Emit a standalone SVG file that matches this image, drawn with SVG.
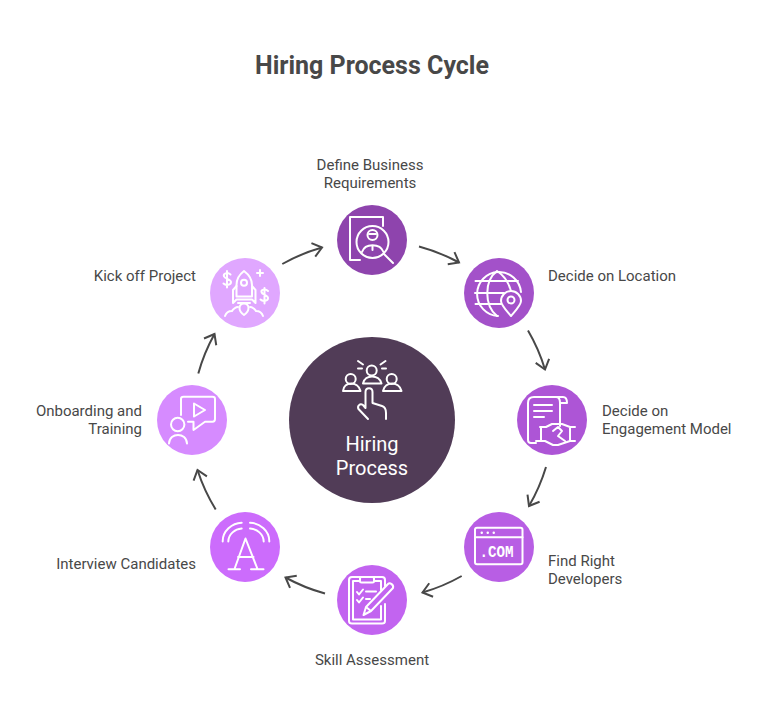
<svg xmlns="http://www.w3.org/2000/svg" width="768" height="720" viewBox="0 0 768 720">
<defs>
<marker id="arrow" markerUnits="userSpaceOnUse" markerWidth="24" markerHeight="24" refX="12" refY="12" orient="auto" overflow="visible"><path d="M3,5 L12,12 L3,19" fill="none" stroke="#484848" stroke-width="2"/></marker>
</defs>
<style>
text{font-family:Roboto,"Liberation Sans",sans-serif}
.t{font-size:15px;fill:#484848}
.m{text-anchor:middle}
.e{text-anchor:end}
.i{fill:none;stroke:#fff;stroke-width:2;stroke-linecap:round;stroke-linejoin:round}
.c{fill:none;stroke:#484848;stroke-width:2;marker-end:url(#arrow)}
</style>
<rect width="768" height="720" fill="#fff"/>
<text x="372" y="74" class="m" font-size="25" font-weight="700" fill="#484848">Hiring Process Cycle</text>
<g id="connectors">
<path class="c" d="M419,246.5 A180,180 0 0 1 459,262.5"/>
<path class="c" d="M528,330.5 A180,180 0 0 1 545,369.5"/>
<path class="c" d="M546,467 A180,180 0 0 1 529,506"/>
<path class="c" d="M461.7,576 A180,180 0 0 1 422.5,592.5"/>
<path class="c" d="M325,593.5 A180,180 0 0 1 285.5,577.5"/>
<path class="c" d="M215.7,509.5 A180,180 0 0 1 197.5,470"/>
<path class="c" d="M198.3,373.5 A180,180 0 0 1 214.5,334"/>
<path class="c" d="M282.3,264 A180,180 0 0 1 322,247.5"/>
</g>
<g id="center">
<circle cx="372" cy="420" r="83" fill="#513c57"/>
<g class="i">
<circle cx="350.7" cy="379" r="5"/><path d="M343,391 C344,381 358,381 360.5,391 Z"/>
<circle cx="371.7" cy="370.5" r="5"/><path d="M363,383.5 C365,374 379,374 381.5,383.5 Z"/>
<circle cx="391.7" cy="379" r="5"/><path d="M383,391 C385,381 399,381 401.5,391 Z"/>
<path d="M358,361 L363,364.5 M385.5,361 L380.5,364.5 M358,368.5 H362 M382,368.5 H386"/>
<path d="M368,419 L358.5,409 C357,406 360,403 363,405 L365.5,408 V392 C365.5,387 372.5,387 372.5,392 V403 L382,406 C385,407 386,410 386,413 V419"/>
</g>
<text x="372" y="451" class="m" font-size="20" fill="#fff">Hiring</text>
<text x="372" y="475" class="m" font-size="20" fill="#fff">Process</text>
</g>
<g id="node-define">
<circle cx="372" cy="240" r="35" fill="#8e44ad"/>
<g class="i">
<path d="M383,226 V217 H350 V260 H360"/>
<circle cx="372.5" cy="242" r="16"/>
<circle cx="372.5" cy="235" r="5"/><path d="M369,234 H376"/>
<path d="M362,252 C365,243 380,243 383.5,252 M372.5,247 V250 M384,254 L393,263"/>
</g>
</g>
<text class="t m" x="370" y="170">Define Business</text>
<text class="t m" x="370" y="188">Requirements</text>
<g id="node-location">
<circle cx="499" cy="293" r="35" fill="#a351c9"/>
<g class="i">
<path d="M521,292 A22,22 0 1 0 498,316 M475.5,281 H518 M475.5,304 H501 M475,293 H504"/>
<path d="M497,271 C484,281 484,305 497,316 M497,271 C505,276 509,284 511,291"/>
<path d="M511,316 C505,309 501,305 501,301 A10,10 0 0 1 521,301 C521,305 517,309 511,316 Z"/>
<circle cx="511" cy="300" r="3.5"/>
</g>
</g>
<text class="t" x="548" y="281">Decide on Location</text>
<g id="node-engagement">
<circle cx="552" cy="420" r="35" fill="#ad55d6"/>
<g class="i">
<path d="M536,443 H531 C529,443 528,442 528,440 V403 C528,399 530,397 534,397 H563 C566,397 567,399 567,403 M556,397 C559,397 560,400 560,403 V426 M567,403 H560"/>
<path d="M534,405 H552 M534,411 H552 M534,417 H544"/>
<path d="M540,427 H546 L552,424 H562 L570,427 H575 M536,441 H545 L553,445 L558,445 L570,441 H575 M541,427 V441 M570,427 V441 M553,431 L558,427 L562,431 L558,436 L565,441"/>
</g>
</g>
<text class="t" x="602" y="416">Decide on</text>
<text class="t" x="602" y="434">Engagement Model</text>
<g id="node-developers">
<circle cx="499" cy="547" r="35" fill="#b85ee4"/>
<g class="i">
<rect x="475" y="527.7" width="47.5" height="36.5" rx="2"/>
<path d="M475,537.3 H522.5"/>
<path d="M481.7,532.7 h.1 M487.7,532.7 h.1 M493.7,532.7 h.1" stroke-width="2.4"/>
</g>
<text x="479.5" y="557" font-size="16" font-weight="700" fill="#fff" textLength="34" lengthAdjust="spacingAndGlyphs" style="font-family:'Liberation Mono',monospace">.COM</text>
</g>
<text class="t" x="548" y="566">Find Right</text>
<text class="t" x="548" y="584">Developers</text>
<g id="node-skill">
<circle cx="372" cy="600" r="35" fill="#c264f0"/>
<g class="i">
<path d="M385,604 V621 C385,623 384,623.5 382,623.5 H352 C350,623.5 349,623 349,621 V580 C349,578 350,577 352,577 H382 C384,577 385,578 385,580 V586"/>
<path d="M381,606 V619.5 H353 V581 H360 M374,581 H381 V590"/>
<rect x="360" y="577" width="14" height="5.5" rx="1.5"/>
<path d="M357,592 L359,594.5 L363,589.5 M357,600 L359,602.5 L363,597.5 M366,591.5 H376 M366,599 H370"/>
<path d="M363.5,615 L366,607 L388,584 C390,582 394,585 393,588 L371,611 Z M366,607 L371,611"/>
</g>
</g>
<text class="t m" x="372" y="665">Skill Assessment</text>
<g id="node-interview">
<circle cx="245" cy="547" r="35" fill="#cc6cfc"/>
<g class="i">
<path d="M222.7,541.5 C222.5,531 232,523 241.7,522.7 M250,522.7 C260,523 269.5,531 269.3,541.5 M228.3,541.5 C228.5,534 235,529 241.7,528.5 M250,528.5 C257,529 263.5,534 263.7,541.5"/>
<path d="M234.5,569 L245.5,538.5 L257.5,569 M228.5,569.3 H240 M251,569.3 H263.5 M238,557 H253.5"/>
</g>
</g>
<text class="t e" x="196" y="569">Interview Candidates</text>
<g id="node-onboarding">
<circle cx="192" cy="420" r="35" fill="#d68bff"/>
<g class="i">
<path d="M181,415 V399 C181,397.5 182,396.7 183.5,396.7 H212.5 C214,396.7 215,397.5 215,399 V419 C215,420.5 214,421.7 212.5,421.7 H205 L193.5,430 V421.7 H188"/>
<path d="M194,403.5 L205,410 L194,416.5 Z"/>
<circle cx="177.7" cy="424.5" r="6.7"/>
<path d="M169,443.5 C169.5,432 186.5,432 187,443.5"/>
</g>
</g>
<text class="t e" x="142" y="416">Onboarding and</text>
<text class="t e" x="142" y="434">Training</text>
<g id="node-kickoff">
<circle cx="245" cy="293" r="35" fill="#e0a7ff"/>
<g class="i">
<path d="M244,271 C248,274 252,279 252,285 V296.5 H236.5 V285 C236.5,279 240,274 244,271 Z"/>
<circle cx="244" cy="282.7" r="3"/>
<path d="M236.5,286 L233,290 V303 L236.5,299.5 H252 L255.5,303 V290 L252,286 M238,303 H250"/>
<path d="M244,315 C241,313 239.5,310 239.5,308 A4.5,4.5 0 0 1 248.5,308 C248.5,310 247,313 244,315 Z"/>
<path d="M225,316 C226,313 229,311 232,311 C233,309 236,307 238,307 M263,316 C262,313 259,311 256,311 C255,309 252,307 250,307"/>
<path d="M230.5,274.5 C227,271.5 223,274 224,276.5 C225,279 231,279 231,282 C231,285 226,286 223.5,283.5 M227,271 V287.5"/>
<path d="M268,291 C265,288 261,290 261.5,292 C262,295 268,295 268,298 C268,301 263,302 260.5,299.5 M264.5,288 V303.5"/>
<path d="M260,270 V276 M257,273 H263"/>
</g>
</g>
<text class="t e" x="196" y="281">Kick off Project</text>
</svg>
